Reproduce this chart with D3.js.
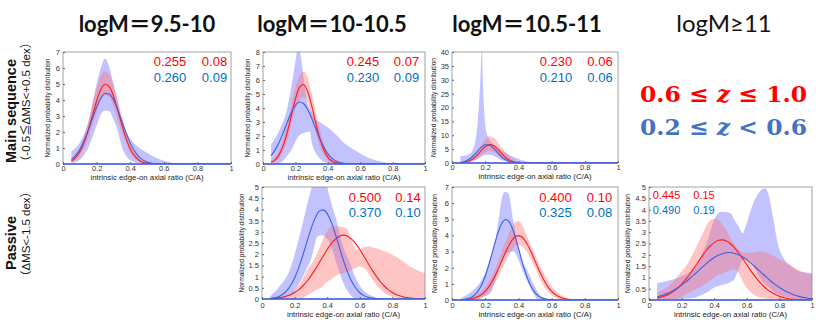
<!DOCTYPE html>
<html><head><meta charset="utf-8">
<script src="https://cdn.jsdelivr.net/npm/d3@7"></script>
<style>body{margin:0;background:#fff} svg{display:block}</style>
</head><body>
<svg id="c" width="830" height="323"></svg>
<script>
// ---------- DATA ----------
const colTitles = ["logM＝9.5-10", "logM＝10-10.5", "logM＝10.5-11", "logM≥11"];
const rowTitles = ["Main sequence", "Passive"];
const rowSubtitles = ["（-0.5≦ΔMS<+0.5 dex）", "（ΔMS<-1.5 dex）"];
const legendHigh = ["0.6 ≤ ", "z", " ≤ 1.0"];
const legendLow = ["0.2 ≤ ", "z", " < 0.6"];
const xLabel = "intrinsic edge-on axial ratio (C/A)";
const yLabel = "Normalized probability distribution";

const xTicks = [0, 0.2, 0.4, 0.6, 0.8, 1];
const yTicks7 = [0, 1, 2, 3, 4, 5, 6, 7];
const yTicks8 = [0, 1, 2, 3, 4, 5, 6, 7, 8];
const yTicks40 = [0, 5, 10, 15, 20, 25, 30, 35, 40];
const yTicks5 = [0, 0.5, 1, 1.5, 2, 2.5, 3, 3.5, 4, 4.5, 5];

// shared x grid of the best-fit curves
const xs = [0.05,0.075,0.1,0.125,0.15,0.175,0.2,0.225,0.25,0.275,0.3,0.325,0.35,0.375,0.4,0.425,0.45,0.475,0.5,0.525,0.55,0.575,0.6,0.625,0.65,0.675,0.7,0.725,0.75,0.775,0.8,0.825,0.85,0.875,0.9,0.925,0.95,0.975,1.0];

// best-fit curves (red: 0.6<=z<=1.0, blue: 0.2<=z<0.6)
const ms95Red  = [0.19,0.40,0.76,1.33,2.11,3.02,3.94,4.65,4.98,4.83,4.26,3.40,2.46,1.62,0.96,0.52,0.26,0.11,0.05,0.02,0.01,0,0,0,0,0,0,0,0,0,0,0,0,0,0,0,0,0,0];
const ms95Blue = [0.29,0.54,0.91,1.44,2.10,2.84,3.55,4.11,4.41,4.37,4.02,3.42,2.69,1.96,1.32,0.83,0.48,0.26,0.13,0.06,0.02,0.01,0,0,0,0,0,0,0,0,0,0,0,0,0,0,0,0,0];
const ms100Red  = [0.12,0.30,0.67,1.31,2.27,3.46,4.64,5.47,5.68,5.20,4.19,2.97,1.85,1.02,0.49,0.21,0.08,0.03,0.01,0,0,0,0,0,0,0,0,0,0,0,0,0,0,0,0,0,0,0,0];
const ms100Blue = [0.60,1.01,1.56,2.24,2.99,3.68,4.19,4.43,4.32,3.91,3.28,2.54,1.82,1.21,0.74,0.42,0.22,0.11,0.05,0.02,0.01,0,0,0,0,0,0,0,0,0,0,0,0,0,0,0,0,0,0];
const ms105Red  = [0.07,0.24,0.64,1.44,2.73,4.37,5.87,6.63,6.29,5.02,3.37,1.90,0.90,0.36,0.12,0.03,0.01,0,0,0,0,0,0,0,0,0,0,0,0,0,0,0,0,0,0,0,0,0,0];
const ms105Blue = [0.19,0.53,1.24,2.44,4.03,5.61,6.56,6.44,5.32,3.70,2.16,1.06,0.44,0.15,0.04,0.01,0,0,0,0,0,0,0,0,0,0,0,0,0,0,0,0,0,0,0,0,0,0,0];
const ps100Red  = [0.02,0.03,0.05,0.08,0.13,0.19,0.29,0.41,0.58,0.78,1.03,1.30,1.61,1.91,2.21,2.47,2.67,2.80,2.85,2.80,2.67,2.47,2.21,1.91,1.61,1.30,1.03,0.78,0.58,0.41,0.29,0.19,0.13,0.08,0.05,0.03,0.02,0.01,0.01];
const ps100Blue = [0.02,0.05,0.10,0.20,0.35,0.60,0.94,1.39,1.94,2.54,3.12,3.60,3.91,3.98,3.81,3.43,2.90,2.30,1.71,1.20,0.79,0.49,0.28,0.15,0.08,0.04,0.02,0.01,0,0,0,0,0,0,0,0,0,0,0];
const ps105Red  = [0.01,0.02,0.04,0.09,0.18,0.32,0.54,0.86,1.30,1.83,2.42,3.01,3.52,3.87,3.99,3.87,3.52,3.01,2.42,1.83,1.30,0.86,0.54,0.32,0.18,0.09,0.04,0.02,0.01,0,0,0,0,0,0,0,0,0,0];
const ps105Blue = [0.01,0.04,0.10,0.22,0.46,0.86,1.47,2.28,3.21,4.10,4.75,4.99,4.75,4.10,3.21,2.28,1.47,0.86,0.46,0.22,0.10,0.04,0.01,0,0,0,0,0,0,0,0,0,0,0,0,0,0,0,0];
const ps110Red  = [0.08,0.13,0.19,0.27,0.38,0.53,0.70,0.91,1.14,1.40,1.67,1.93,2.18,2.39,2.54,2.64,2.66,2.61,2.49,2.31,2.08,1.83,1.56,1.29,1.05,0.82,0.63,0.47,0.34,0.24,0.16,0.11,0.07,0.04,0.03,0.02,0.01,0.01,0];
const ps110Blue = [0.14,0.19,0.26,0.33,0.42,0.53,0.66,0.79,0.95,1.11,1.27,1.44,1.60,1.75,1.88,1.98,2.05,2.09,2.10,2.06,2.00,1.90,1.78,1.63,1.47,1.31,1.14,0.98,0.82,0.68,0.55,0.44,0.35,0.27,0.20,0.15,0.11,0.08,0.06];

// uncertainty bands: [x, low, high]
const ms95RedBand = [[0.05,0.1,0.3],[0.1,0.5,1.0],[0.15,1.6,2.6],[0.2,3.2,4.75],[0.225,4.0,5.5],[0.25,4.3,5.8],[0.275,4.2,5.6],[0.3,3.6,5.0],[0.325,2.8,4.0],[0.35,2.0,3.0],[0.4,0.7,1.3],[0.45,0.15,0.45],[0.5,0.02,0.12],[0.55,0,0.02]];
const ms95BlueBand = [[0.05,0.05,0.8],[0.1,0.27,1.35],[0.15,1.0,2.6],[0.2,2.4,5.0],[0.225,3.1,6.0],[0.25,3.35,6.6],[0.275,3.3,6.1],[0.3,2.8,5.0],[0.325,2.1,3.9],[0.35,1.1,2.7],[0.4,0.25,1.6],[0.45,0.05,1.05],[0.5,0,0.7],[0.55,0,0.4],[0.6,0,0.2],[0.65,0,0.08],[0.7,0,0.02]];
const ms100RedBand = [[0.05,0.05,0.25],[0.1,0.4,1.0],[0.15,1.7,2.9],[0.2,3.9,5.5],[0.225,4.6,6.3],[0.25,4.8,6.6],[0.275,4.4,6.2],[0.3,3.4,5.0],[0.35,1.3,2.5],[0.4,0.25,0.8],[0.45,0.02,0.2],[0.5,0,0.05]];
const ms100BlueBand = [[0.05,0,1.4],[0.1,0.05,2.4],[0.15,0.6,4.0],[0.175,1.0,5.5],[0.2,1.6,7.3],[0.215,1.9,8.2],[0.23,2.1,7.9],[0.25,2.2,6.2],[0.275,2.3,4.3],[0.29,2.3,3.9],[0.3,1.6,3.7],[0.325,0.8,3.2],[0.35,0.4,3.0],[0.4,0.07,2.6],[0.45,0,2.1],[0.5,0,1.5],[0.55,0,1.1],[0.6,0,0.75],[0.65,0,0.45],[0.7,0,0.25],[0.75,0,0.12],[0.8,0,0.05],[0.85,0,0.02],[0.9,0,0]];
const ms105RedBand = [[0.05,0,0.3],[0.1,0.3,1.2],[0.15,1.5,4.0],[0.2,3.8,8.5],[0.225,4.3,9.6],[0.25,4.0,9.2],[0.3,2.0,5.5],[0.35,0.5,2.2],[0.4,0.05,0.6],[0.45,0,0.1],[0.5,0,0]];
const ms105BlueBand = [[0.05,0,2.4],[0.105,0.3,3.2],[0.136,1.0,6.6],[0.155,1.5,15],[0.17,2.0,29],[0.18,2.4,41],[0.186,2.6,29],[0.196,2.9,17],[0.206,3.0,11.4],[0.226,3.0,8.4],[0.266,2.2,6.0],[0.3,1.0,4.6],[0.327,0.6,3.6],[0.35,0.3,2.8],[0.387,0.05,1.8],[0.447,0,0.6],[0.5,0,0.25],[0.55,0,0.05],[0.58,0,0]];
const ps100RedBand = [[0.05,0,0],[0.11,0,0.1],[0.17,0,0.2],[0.25,0.05,0.9],[0.27,0.12,1.2],[0.33,0.4,1.9],[0.37,0.55,2.6],[0.39,0.7,2.9],[0.43,0.9,3.25],[0.47,1.1,3.25],[0.5,1.15,3.2],[0.52,1.2,3.15],[0.55,1.3,2.6],[0.58,1.4,2.2],[0.6,1.45,2.2],[0.62,1.4,2.3],[0.64,1.3,2.33],[0.66,1.05,2.35],[0.68,0.85,2.3],[0.71,0.55,2.25],[0.74,0.35,2.15],[0.78,0.15,2.05],[0.83,0.05,1.85],[0.86,0.02,1.7],[0.9,0,1.5],[0.95,0,1.3],[1.0,0,1.15]];
const ps100BlueBand = [[0.05,0,0.12],[0.1,0,0.5],[0.17,0.12,1.3],[0.23,0.7,2.8],[0.27,1.3,4.0],[0.3,1.75,4.85],[0.32,2.3,5.3],[0.34,2.8,5.4],[0.37,2.85,5.4],[0.39,2.75,5.3],[0.41,2.6,4.7],[0.457,1.6,3.5],[0.5,0.7,2.3],[0.54,0.2,1.6],[0.58,0,0.85],[0.62,0,0.4],[0.68,0,0.12],[0.74,0,0]];
const ps105RedBand = [[0.1,0,0.1],[0.15,0.05,0.3],[0.2,0.3,0.8],[0.25,0.9,1.7],[0.3,1.9,3.0],[0.35,2.9,4.3],[0.375,3.3,4.75],[0.4,3.4,4.9],[0.425,3.3,4.6],[0.45,3.0,4.0],[0.5,2.0,2.8],[0.55,0.9,1.7],[0.6,0.3,0.85],[0.65,0.05,0.35],[0.7,0,0.1],[0.75,0,0]];
const ps105BlueBand = [[0.05,0,0.1],[0.127,0.02,0.6],[0.17,0.1,1.1],[0.19,0.2,1.45],[0.23,0.4,2.6],[0.26,1.2,3.7],[0.28,2.0,4.9],[0.3,2.4,6.3],[0.32,2.85,6.7],[0.34,2.95,6.6],[0.37,3.0,4.9],[0.4,2.5,3.3],[0.43,1.7,2.25],[0.45,1.25,1.9],[0.47,0.8,1.45],[0.49,0.4,1.0],[0.51,0.1,0.6],[0.53,0.05,0.3],[0.55,0,0.1],[0.57,0,0]];
const ps110RedBand = [[0.05,0,0.3],[0.14,0.03,0.75],[0.18,0.08,1.1],[0.24,0.3,1.65],[0.28,0.45,2.2],[0.32,0.6,2.8],[0.38,0.9,3.55],[0.41,1.05,3.6],[0.46,1.2,3.25],[0.52,1.35,2.5],[0.55,1.2,2.25],[0.58,0.75,2.1],[0.63,0.3,2.1],[0.69,0.1,2.15],[0.75,0.04,2.0],[0.79,0.02,1.85],[0.83,0,1.7],[0.91,0,1.35],[1.0,0,1.1]];
const ps110BlueBand = [[0.05,0,0.75],[0.14,0.03,0.9],[0.24,0.07,1.2],[0.28,0.1,1.4],[0.3,0.15,1.65],[0.36,0.35,2.65],[0.4,0.55,3.55],[0.44,0.65,3.9],[0.5,0.8,3.85],[0.52,0.9,3.6],[0.55,1.35,3.25],[0.575,1.8,2.95],[0.59,1.85,3.2],[0.6,1.8,3.4],[0.63,1.65,4.1],[0.67,1.1,4.7],[0.71,0.7,4.95],[0.73,0.6,4.75],[0.76,0.4,3.7],[0.79,0.25,2.5],[0.83,0.15,1.8],[0.87,0.1,1.5],[0.93,0.04,1.25],[1.0,0,1.2]];

// best-fit (mean, sigma) annotations: [red mean, red sigma], [blue mean, blue sigma]
const annMs95  = [["0.255","0.08"],["0.260","0.09"]];
const annMs100 = [["0.245","0.07"],["0.230","0.09"]];
const annMs105 = [["0.230","0.06"],["0.210","0.06"]];
const annPs100 = [["0.500","0.14"],["0.370","0.10"]];
const annPs105 = [["0.400","0.10"],["0.325","0.08"]];
const annPs110 = [["0.445","0.15"],["0.490","0.19"]];

// ---------- DRAW ----------
const RED = "#ff1a1a", BLUE = "#3c5ee6", ANN_RED = "#ff0000", ANN_BLUE = "#0070c0";
const svg = d3.select("#c");
svg.append("rect").attr("width",830).attr("height",323).attr("fill","#fff");

const panels = [
  {x0:63,  x1:231, y0:52,  y1:164, ymax:7,  yt:yTicks7,  red:ms95Red,  blue:ms95Blue,  rb:ms95RedBand,  bb:ms95BlueBand,  ann:annMs95,  ax:[170,214.5], ay:[66,82],   as:13, tickY:171, labY:180, yl:13},
  {x0:263, x1:425, y0:52,  y1:164, ymax:8,  yt:yTicks8,  red:ms100Red, blue:ms100Blue, rb:ms100RedBand, bb:ms100BlueBand, ann:annMs100, ax:[363,406.5], ay:[66,82],   as:13, tickY:171, labY:180, yl:13},
  {x0:452, x1:618, y0:52,  y1:163, ymax:40, yt:yTicks40, red:ms105Red, blue:ms105Blue, rb:ms105RedBand, bb:ms105BlueBand, ann:annMs105, ax:[556,600],   ay:[66,82],   as:13, tickY:170, labY:179, yl:16},
  {x0:262, x1:425, y0:187, y1:299, ymax:5,  yt:yTicks5,  red:ps100Red, blue:ps100Blue, rb:ps100RedBand, bb:ps100BlueBand, ann:annPs100, ax:[365,408],   ay:[202,217], as:13, tickY:308, labY:317, yl:18},
  {x0:452, x1:618, y0:187, y1:300, ymax:7,  yt:yTicks7,  red:ps105Red, blue:ps105Blue, rb:ps105RedBand, bb:ps105BlueBand, ann:annPs105, ax:[555.5,599.5], ay:[202,217], as:13, tickY:308, labY:317, yl:15},
  {x0:649, x1:812, y0:187, y1:300, ymax:5,  yt:yTicks5,  red:ps110Red, blue:ps110Blue, rb:ps110RedBand, bb:ps110BlueBand, ann:annPs110, ax:[666.5,704], ay:[199,214], as:11, tickY:308, labY:317, yl:19}
];

panels.forEach((p, i) => {
  const x = d3.scaleLinear().domain([0,1]).range([p.x0, p.x1]);
  const y = d3.scaleLinear().domain([0,p.ymax]).range([p.y1, p.y0]);
  const g = svg.append("g");
  const cid = "clip" + i;
  svg.append("defs").append("clipPath").attr("id", cid)
    .append("rect").attr("x", p.x0).attr("y", p.y0).attr("width", p.x1-p.x0).attr("height", p.y1-p.y0);
  const pg = g.append("g").attr("clip-path", `url(#${cid})`);

  const area = d3.area().x(d=>x(d[0])).y0(d=>y(d[1])).y1(d=>y(d[2])).curve(d3.curveMonotoneX);
  pg.append("path").attr("d", area(p.bb)).attr("fill","rgb(95,95,255)").attr("fill-opacity",0.38);
  pg.append("path").attr("d", area(p.rb)).attr("fill","rgb(255,110,110)").attr("fill-opacity",0.4);

  const line = d3.line().x(d=>x(d[0])).y(d=>y(d[1])).curve(d3.curveMonotoneX);
  pg.append("path").attr("d", line(xs.map((v,k)=>[v,p.red[k]]))).attr("fill","none").attr("stroke",RED).attr("stroke-width",1.1);
  pg.append("path").attr("d", line(xs.map((v,k)=>[v,p.blue[k]]))).attr("fill","none").attr("stroke",BLUE).attr("stroke-width",1.1);

  // frame
  g.append("rect").attr("x",p.x0).attr("y",p.y0).attr("width",p.x1-p.x0).attr("height",p.y1-p.y0)
    .attr("fill","none").attr("stroke","#8a8a8a").attr("stroke-width",0.8);
  // zero baseline in blue across the full range
  g.append("line").attr("x1",x(0)).attr("x2",x(1)).attr("y1",y(0)).attr("y2",y(0))
    .attr("stroke",BLUE).attr("stroke-width",1.3);

  // axes
  const ya = d3.axisLeft(y).tickValues(p.yt).tickSize(-2).tickPadding(3).tickFormat(d3.format("~g"));
  const yg = g.append("g").attr("transform",`translate(${p.x0},0)`).call(ya);
  yg.select(".domain").remove();
  yg.selectAll("line").attr("stroke","#666");
  yg.selectAll("text").attr("font-family","Liberation Sans, Arial, sans-serif").attr("font-size",7.5).attr("fill","#333");

  const xa = d3.axisBottom(x).tickValues(xTicks).tickSize(-2).tickPadding(4).tickFormat(d3.format("~g"));
  const xg = g.append("g").attr("transform",`translate(0,${p.y1})`).call(xa);
  xg.select(".domain").remove();
  xg.selectAll("line").attr("stroke","#666");
  xg.selectAll("text").attr("font-family","Liberation Sans, Arial, sans-serif").attr("font-size",7.5).attr("fill","#333")
    .attr("y",null).attr("dy",null).attr("transform",null);
  xg.selectAll(".tick text").attr("y", p.tickY - p.y1);

  g.append("text").attr("x",(p.x0+p.x1)/2).attr("y",p.labY).attr("text-anchor","middle")
    .attr("font-family","Liberation Sans, Arial, sans-serif").attr("font-size",7.8).attr("fill","#222").text(xLabel);
  g.append("text").attr("transform",`translate(${p.x0-p.yl},${(p.y0+p.y1)/2}) rotate(-90)`).attr("text-anchor","middle")
    .attr("font-family","Liberation Sans, Arial, sans-serif").attr("font-size",6.6).attr("fill","#222").text(yLabel);

  // annotations
  [[ANN_RED,0],[ANN_BLUE,1]].forEach(([col,r]) => {
    p.ann[r].forEach((t,c) => {
      g.append("text").attr("x",p.ax[c]).attr("y",p.ay[r]).attr("text-anchor","middle")
        .attr("font-family","Liberation Sans, Arial, sans-serif").attr("font-size",p.as).attr("fill",col).text(t);
    });
  });
});

// column titles
const colX = [147, 332, 527, 724];
const colSize = [22, 22, 22, 24];
colTitles.forEach((t,i) => {
  svg.append("text").attr("x",colX[i]).attr("y",32).attr("text-anchor","middle")
    .attr("font-family","Lato, 'Noto Sans CJK JP', sans-serif").attr("font-weight", i<3 ? "bold" : "normal")
    .attr("font-size",colSize[i]).attr("fill","#111").text(t);
});

// row titles
const rowY = [111, 243], subY = [102, 234];
rowTitles.forEach((t,i) => {
  svg.append("text").attr("transform",`translate(16,${rowY[i]}) rotate(-90)`).attr("text-anchor","middle")
    .attr("font-family","Liberation Sans, Arial, sans-serif").attr("font-size",14.5).attr("font-weight","bold").attr("fill","#111").text(t);
  svg.append("text").attr("transform",`translate(30,${subY[i]}) rotate(-90)`).attr("text-anchor","middle")
    .attr("font-family","Liberation Sans, 'Noto Sans CJK JP', sans-serif").attr("font-size",11.5).attr("fill","#111").text(rowSubtitles[i]);
});

// legend
function legend(parts, color, yb){
  const t = svg.append("text").attr("x",640).attr("y",yb)
    .attr("font-family","'DejaVu Serif', 'Liberation Serif', serif").attr("font-weight","bold")
    .attr("font-size",23).attr("fill",color).attr("textLength",167).attr("lengthAdjust","spacingAndGlyphs");
  parts.forEach((s,k) => t.append("tspan").attr("font-style", k===1 ? "italic" : "normal").text(s));
}
legend(legendHigh, "#ff0000", 102);
legend(legendLow, "#4472c4", 135);
</script></body></html>
